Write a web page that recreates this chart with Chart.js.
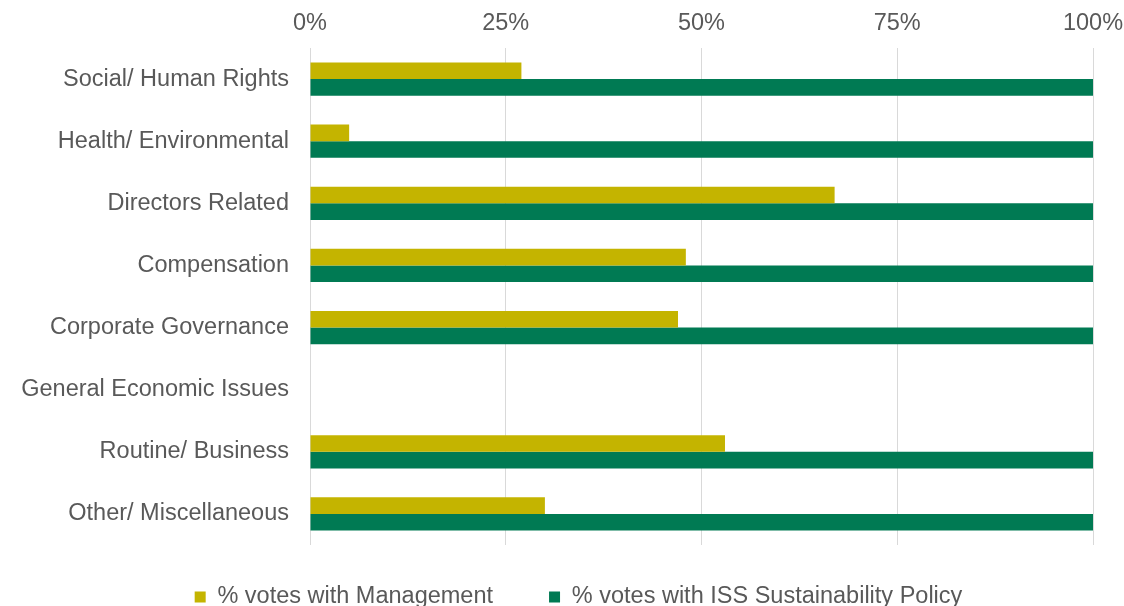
<!DOCTYPE html>
<html>
<head>
<meta charset="utf-8">
<script src="https://cdn.jsdelivr.net/npm/chart.js@4/dist/chart.umd.min.js"></script>
<style>
  html, body { margin: 0; padding: 0; background: #fff; }
  #wrap { width: 1124px; height: 606px; position: relative; }
</style>
</head>
<body>
<div id="wrap"><canvas id="chart"></canvas></div>
<script>
// datos
const categorias = [
  'Social/ Human Rights',
  'Health/ Environmental',
  'Directors Related',
  'Compensation',
  'Corporate Governance',
  'General Economic Issues',
  'Routine/ Business',
  'Other/ Miscellaneous'
];
const votosManagement = [27, 5, 67, 48, 47, 0, 53, 30];
const votosISS = [100, 100, 100, 100, 100, 0, 100, 100];
const ticksX = [0, 25, 50, 75, 100];
const nombresSeries = ['% votes with Management', '% votes with ISS Sustainability Policy'];

const GRIS_TEXTO = '#595959';
const FUENTE = "'Liberation Sans', Arial, sans-serif";

// leyenda: alto fijo, centro de texto en y=595 y algo corrida a la derecha
const legendaFija = {
  id: 'legendaFija',
  beforeLayout(chart) {
    const lg = chart.legend;
    if (lg && !lg._parcheado) {
      const fitOrig = lg.fit;
      lg.fit = function () { fitOrig.call(this); this.height = 61; };
      lg._parcheado = true;
    }
  },
  afterLayout(chart) {
    const lg = chart.legend;
    const pad = lg.options.labels.padding;
    const fs = lg.options.labels.font.size;
    lg.top = 597 - fs / 2 - pad;
    lg.left += 32;
    lg.right += 32;
  }
};

Chart.defaults.font.family = FUENTE;
Chart.defaults.color = GRIS_TEXTO;

new Chart(document.getElementById('chart'), {
  type: 'bar',
  data: {
    labels: categorias,
    datasets: [{
      label: nombresSeries[0],
      data: votosManagement,
      backgroundColor: '#C4B400',
      borderWidth: 0,
      categoryPercentage: 0.535,
      barPercentage: 1
    }, {
      label: nombresSeries[1],
      data: votosISS,
      backgroundColor: '#007A53',
      borderWidth: 0,
      categoryPercentage: 0.535,
      barPercentage: 1
    }]
  },
  options: {
    indexAxis: 'y',
    responsive: true,
    maintainAspectRatio: false,
    animation: false,
    layout: { padding: { left: 0, right: 31, top: 0, bottom: 0 } },
    plugins: {
      tooltip: { enabled: false },
      legend: {
        position: 'bottom',
        labels: {
          boxWidth: 11,
          boxHeight: 11,
          padding: 56,
          color: GRIS_TEXTO,
          font: { size: 23.5 }
        }
      }
    },
    scales: {
      x: {
        position: 'top',
        min: 0,
        max: 100,
        afterBuildTicks(scale) { scale.ticks = ticksX.map(v => ({ value: v })); },
        afterFit(scale) {
          scale.height = 48;
          scale.paddingLeft = 0;
          scale.paddingRight = 0;
        },
        grid: { color: '#D9D9D9', lineWidth: 1, drawTicks: false },
        border: { display: false },
        ticks: {
          padding: 10,
          color: GRIS_TEXTO,
          font: { size: 23.5 },
          callback: v => v + '%'
        }
      },
      y: {
        afterFit(scale) { scale.width = 310; },
        grid: { display: false, drawTicks: false },
        border: { display: false },
        ticks: {
          padding: 21,
          color: GRIS_TEXTO,
          font: { size: 23.5 }
        }
      }
    }
  },
  plugins: [legendaFija]
});
</script>
</body>
</html>
